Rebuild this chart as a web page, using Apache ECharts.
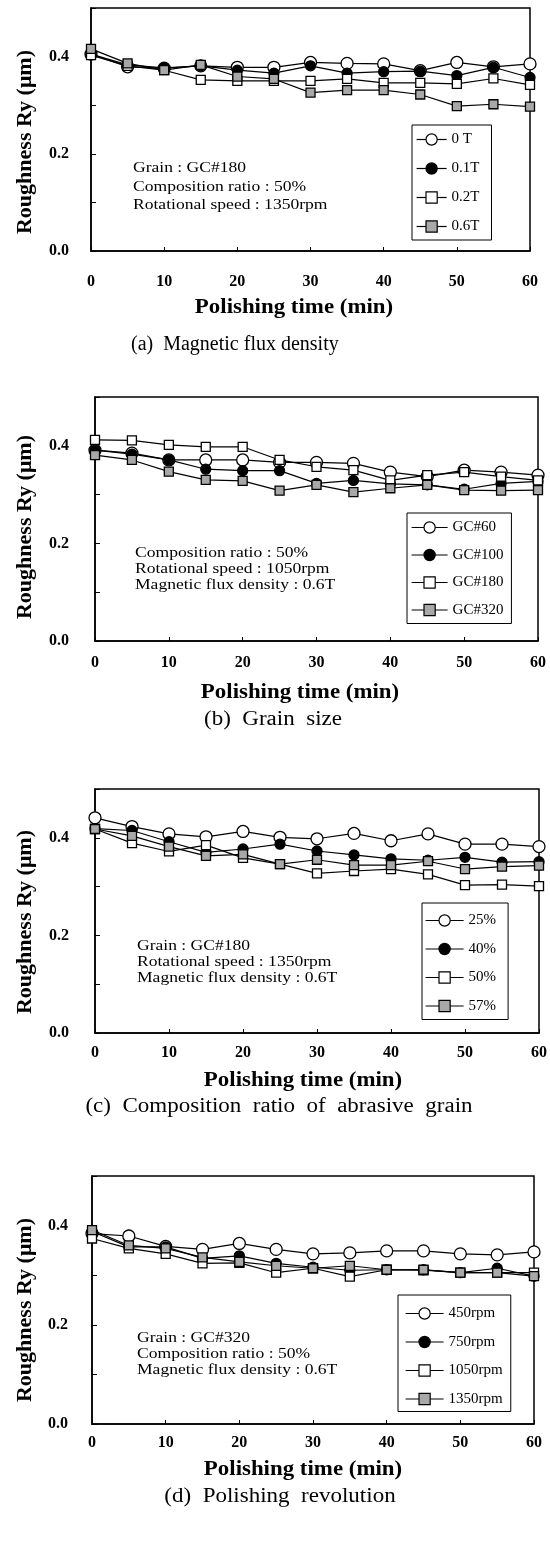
<!DOCTYPE html>
<html><head><meta charset="utf-8">
<script src="https://cdn.jsdelivr.net/npm/echarts@6/dist/echarts.min.js"></script>
<style>html,body{margin:0;padding:0;background:#fff}#c{width:550px;height:1541px}</style>
</head><body><div id="c"></div>
<script>
// ---------- data ----------
const times = [0,5,10,15,20,25,30,35,40,45,50,55,60];
const xTickLabels = ['0','10','20','30','40','50','60'];
const yTickLabels = ['0.0','0.2','0.4'];
const xTitle = 'Polishing time (min)';
const yTitle = 'Roughness Ry (\u03bcm)';

// (a) Magnetic flux density
const namesA = ['0 T','0.1T','0.2T','0.6T'];
const a_0T  = [0.405,0.379,0.376,0.381,0.378,0.378,0.388,0.386,0.385,0.371,0.388,0.379,0.385];
const a_01T = [0.405,0.383,0.377,0.381,0.372,0.366,0.381,0.366,0.369,0.370,0.361,0.378,0.357];
const a_02T = [0.403,0.381,0.372,0.352,0.350,0.350,0.350,0.354,0.346,0.346,0.344,0.355,0.342];
const a_06T = [0.416,0.386,0.372,0.383,0.359,0.354,0.326,0.331,0.331,0.322,0.298,0.302,0.297];
const notesA = ['Grain : GC#180','Composition ratio : 50%','Rotational speed : 1350rpm'];
const captionA = '(a)  Magnetic flux density';

// (b) Grain size
const namesB = ['GC#60','GC#100','GC#180','GC#320'];
const b_60  = [0.391,0.385,0.371,0.371,0.371,0.366,0.366,0.364,0.346,0.337,0.350,0.346,0.340];
const b_100 = [0.391,0.383,0.371,0.352,0.349,0.349,0.323,0.329,0.322,0.320,0.311,0.323,0.327];
const b_180 = [0.412,0.411,0.402,0.398,0.398,0.371,0.357,0.350,0.329,0.340,0.346,0.337,0.329];
const b_320 = [0.381,0.371,0.347,0.330,0.328,0.308,0.320,0.305,0.313,0.320,0.309,0.308,0.309];
const notesB = ['Composition ratio : 50%','Rotational speed : 1050rpm','Magnetic flux density : 0.6T'];
const captionB = '(b)  Grain  size';

// (c) Composition ratio of abrasive grain
const namesC = ['25%','40%','50%','57%'];
const c_25 = [0.441,0.423,0.408,0.402,0.413,0.401,0.398,0.409,0.394,0.408,0.387,0.387,0.382];
const c_40 = [0.419,0.415,0.392,0.370,0.377,0.387,0.373,0.365,0.357,0.354,0.360,0.350,0.351];
const c_50 = [0.418,0.389,0.372,0.385,0.359,0.346,0.327,0.332,0.336,0.325,0.303,0.304,0.301];
const c_57 = [0.418,0.404,0.382,0.363,0.366,0.346,0.355,0.344,0.344,0.352,0.336,0.341,0.343];
const notesC = ['Grain : GC#180','Rotational speed : 1350rpm','Magnetic flux density : 0.6T'];
const captionC = '(c)  Composition  ratio  of  abrasive  grain';

// (d) Polishing revolution
const namesD = ['450rpm','750rpm','1050rpm','1350rpm'];
const d_450  = [0.384,0.379,0.358,0.352,0.364,0.352,0.343,0.345,0.349,0.349,0.343,0.341,0.347];
const d_750  = [0.388,0.357,0.357,0.334,0.339,0.324,0.316,0.310,0.311,0.311,0.305,0.314,0.298];
const d_1050 = [0.374,0.354,0.343,0.324,0.325,0.305,0.314,0.297,0.311,0.310,0.305,0.305,0.305];
const d_1350 = [0.391,0.360,0.354,0.336,0.327,0.319,0.314,0.319,0.311,0.311,0.305,0.305,0.298];
const notesD = ['Grain : GC#320','Composition ratio : 50%','Magnetic flux density : 0.6T'];
const captionD = '(d)  Polishing  revolution';

// ---------- layout ----------
const panels = [
  {names:namesA, values:[a_0T,a_01T,a_02T,a_06T], notes:notesA, caption:captionA,
   grid:{left:91,top:8,width:439,height:243}, yMargin:22, xMargin:23,
   yTitle:[25,142], xTitle:[294,307], cap:{x:131,y:345,align:'left',scale:1.0},
   noteX:133, noteY:[168,187,205],
   legend:{left:412,top:125,padding:[7,12,6,4],itemWidth:30,itemGap:14}},
  {names:namesB, values:[b_60,b_100,b_180,b_320], notes:notesB, caption:captionB,
   grid:{left:95,top:397,width:443,height:244}, yMargin:26, xMargin:14,
   yTitle:[25,527], xTitle:[300,692], cap:{x:273,y:720,align:'center',scale:1.15},
   noteX:135, noteY:[553,569,585],
   legend:{left:407,top:513,padding:[7,8,6,4],itemWidth:36,itemGap:12.5}},
  {names:namesC, values:[c_25,c_40,c_50,c_57], notes:notesC, caption:captionC,
   grid:{left:95,top:789,width:445,height:244}, yMargin:26, xMargin:12,
   yTitle:[25,922], xTitle:[303,1080], cap:{x:279,y:1107,align:'center',scale:1.15},
   noteX:137, noteY:[946,962,978],
   legend:{left:422,top:903,padding:[10,12,6,3],itemWidth:38,itemGap:13.5}},
  {names:namesD, values:[d_450,d_750,d_1050,d_1350], notes:notesD, caption:captionD,
   grid:{left:92,top:1176,width:442,height:248}, yMargin:24, xMargin:11,
   yTitle:[25,1310], xTitle:[303,1469], cap:{x:280,y:1497,align:'center',scale:1.15},
   noteX:137, noteY:[1338,1354,1370],
   legend:{left:398,top:1295,padding:[11,8,5,7],itemWidth:38,itemGap:13.5}}
];

const markStyles = [
  {symbol:'circle', size:12, color:'#ffffff'},
  {symbol:'circle', size:10, color:'#000000'},
  {symbol:'rect',   size:9,  color:'#ffffff'},
  {symbol:'rect',   size:9,  color:'#a8a8a8'}
];

const SERIF = '"Liberation Serif","Times New Roman",serif';
const option = {animation:false, backgroundColor:'#fff',
  grid:[], xAxis:[], yAxis:[], series:[], legend:[], graphic:[]};

panels.forEach((p, gi) => {
  option.grid.push(Object.assign({show:true, borderColor:'#000', borderWidth:1.5,
    backgroundColor:'transparent'}, p.grid));
  option.xAxis.push({type:'value', gridIndex:gi, min:0, max:60, interval:10,
    axisLine:{show:true, lineStyle:{color:'#000', width:1.5}},
    axisTick:{show:true, inside:true, length:4, lineStyle:{color:'#000'}},
    splitLine:{show:false},
    axisLabel:{margin:p.xMargin, color:'#000', fontFamily:SERIF, fontWeight:'bold', fontSize:16,
      formatter: v => xTickLabels[Math.round(v/10)]}});
  option.yAxis.push({type:'value', gridIndex:gi, min:0, max:0.5, interval:0.1,
    axisLine:{show:true, lineStyle:{color:'#000', width:1.5}},
    axisTick:{show:true, inside:true, length:5, lineStyle:{color:'#000'}},
    splitLine:{show:false},
    axisLabel:{margin:p.yMargin, color:'#000', fontFamily:SERIF, fontWeight:'bold', fontSize:16,
      formatter: v => { const k = Math.round(v*10); return (k%2===0 && k<=4) ? yTickLabels[k/2] : ''; }}});
  p.names.forEach((nm, si) => {
    const ms = markStyles[si];
    option.series.push({type:'line', name:nm, xAxisIndex:gi, yAxisIndex:gi,
      data: times.map((t, i) => [t, p.values[si][i]]),
      symbol:ms.symbol, symbolSize:ms.size, showAllSymbol:true,
      lineStyle:{color:'#000', width:1.2},
      itemStyle:{color:ms.color, borderColor:'#000', borderWidth:1.3},
      z: 2 + si});
  });
  option.legend.push(Object.assign({data:p.names, orient:'vertical', itemHeight:14,
    borderColor:'#000', borderWidth:1, backgroundColor:'#fff', selectedMode:false,
    textStyle:{fontFamily:SERIF, fontSize:15, color:'#000', lineHeight:14},
    itemStyle:{borderColor:'#000', borderWidth:1.2},
    lineStyle:{color:'#000', width:1.2}}, p.legend));
  // titles
  option.graphic.push({type:'text', x:p.yTitle[0], y:p.yTitle[1], rotation:Math.PI/2,
    style:{text:yTitle, fill:'#000', font:'bold 22px ' + SERIF, align:'center', verticalAlign:'middle'}});
  option.graphic.push({type:'text', x:p.xTitle[0], y:p.xTitle[1], scaleX:1.04,
    style:{text:xTitle, fill:'#000', font:'bold 22px ' + SERIF, align:'center', verticalAlign:'middle'}});
  option.graphic.push({type:'text', x:p.cap.x, y:p.cap.y, scaleX:p.cap.scale,
    style:{text:p.caption, fill:'#000', font:'20px ' + SERIF, align:p.cap.align, verticalAlign:'middle'}});
  p.notes.forEach((line, li) => {
    option.graphic.push({type:'text', x:p.noteX, y:p.noteY[li], scaleX:1.17,
      style:{text:line, fill:'#000', font:'15px ' + SERIF, align:'left', verticalAlign:'middle'}});
  });
});

const chart = echarts.init(document.getElementById('c'), null, {renderer:'canvas'});
chart.setOption(option);
</script>
</body></html>
